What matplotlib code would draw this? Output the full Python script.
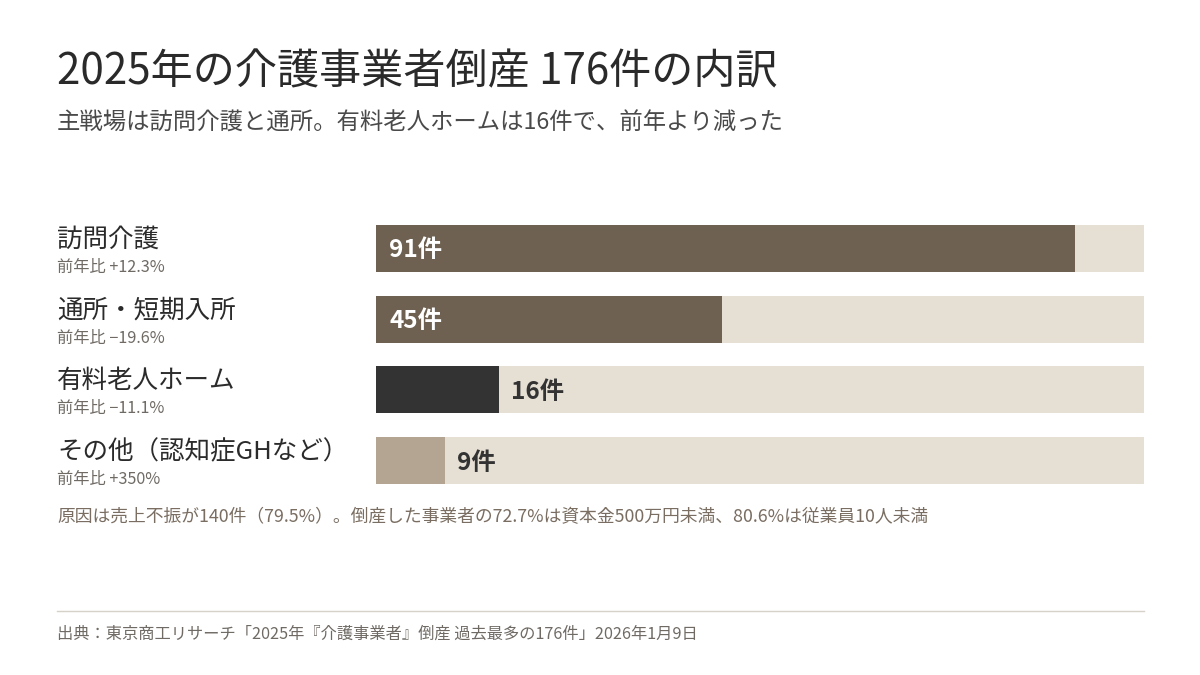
import matplotlib
matplotlib.use("Agg")
import matplotlib.pyplot as plt
from matplotlib.transforms import blended_transform_factory

plt.rcParams['font.family'] = ['Noto Sans CJK JP', 'DejaVu Sans']

# data
categories = ["訪問介護", "通所・短期入所", "有料老人ホーム", "その他（認知症GHなど）"]
counts = [91, 45, 16, 9]
yoy = ["前年比 +12.3%", "前年比 −19.6%", "前年比 −11.1%", "前年比 +350%"]
colors = ["#6e6151", "#6e6151", "#333333", "#b3a592"]
label_inside = [True, True, False, False]
scale_max = 100

track_color = "#e6dfd4"

fig = plt.figure(figsize=(12, 6.75), dpi=100)
fig.patch.set_facecolor("white")

# bar area: x 376..1144 px, y 225..484 px
h = 0.665
ax = fig.add_axes([376 / 1200, 1 - 484 / 675, 768 / 1200, 259 / 675])
ypos = list(range(len(categories)))
ax.barh(ypos, [scale_max] * len(ypos), height=h, color=track_color, zorder=1)
ax.barh(ypos, counts, height=h, color=colors, zorder=2)
ax.set_xlim(0, scale_max)
ax.set_ylim(len(ypos) - 1 + h / 2, -h / 2)
ax.axis("off")

for y, c, inside in zip(ypos, counts, label_inside):
    if inside:
        ax.annotate(f"{c}件", (0, y), xytext=(13, -2), textcoords="offset pixels",
                    va="center", ha="left", fontsize=17.5, fontweight="bold", color="white")
    else:
        ax.annotate(f"{c}件", (c, y), xytext=(12, -2), textcoords="offset pixels",
                    va="center", ha="left", fontsize=17.5, fontweight="bold", color="#333333")

# left labels
tr = blended_transform_factory(fig.transFigure, ax.transData)
for y, cat, sub in zip(ypos, categories, yoy):
    ax.text(57 / 1200, y - 0.12, cat, transform=tr, ha="left", va="center",
            fontsize=18.4, color="#2b2b2b")
    ax.text(57 / 1200, y + 0.27, sub, transform=tr, ha="left", va="center",
            fontsize=11.7, color="#6f6a64")

# titles
fig.text(57 / 1200, 1 - 72 / 675, "2025年の介護事業者倒産 176件の内訳",
         ha="left", va="center", fontsize=30.3, color="#2a2a2a")
fig.text(57 / 1200, 1 - 123 / 675, "主戦場は訪問介護と通所。有料老人ホームは16件で、前年より減った",
         ha="left", va="center", fontsize=16.8, color="#4a4a4a")

# note
fig.text(57 / 1200, 1 - 517 / 675,
         "原因は売上不振が140件（79.5%）。倒産した事業者の72.7%は資本金500万円未満、80.6%は従業員10人未満",
         ha="left", va="center", fontsize=12.8, color="#7a6e62")

# separator + source
fig.add_artist(plt.Line2D([57 / 1200, 1144 / 1200], [1 - 611 / 675, 1 - 611 / 675],
                          transform=fig.transFigure, color="#d6d1c9", linewidth=1))
fig.text(57 / 1200, 1 - 634 / 675,
         "出典：東京商工リサーチ「2025年『介護事業者』倒産 過去最多の176件」2026年1月9日",
         ha="left", va="center", fontsize=11.7, color="#6f6a64")

fig.savefig("out.png", dpi=100, facecolor="white")
